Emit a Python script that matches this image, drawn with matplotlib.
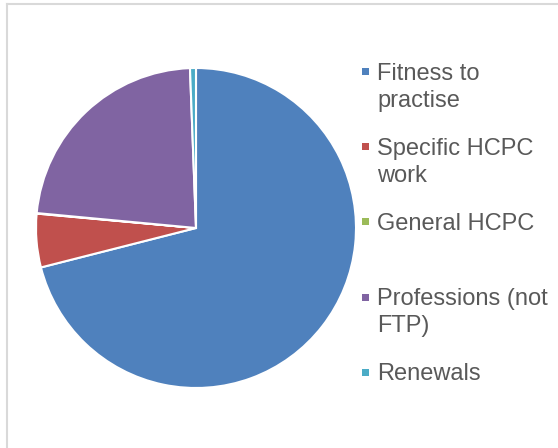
import matplotlib
matplotlib.use("Agg")
import matplotlib.pyplot as plt
from matplotlib.patches import Rectangle
from matplotlib.lines import Line2D

categories = ["Fitness to\npractise", "Specific HCPC\nwork", "General HCPC",
              "Professions (not\nFTP)", "Renewals"]
values = [71.0, 5.4, 0.05, 22.9, 0.6]
colors = ["#4F81BD", "#C0504D", "#9BBB59", "#8064A2", "#4BACC6"]

W, H = 558, 448
fig = plt.figure(figsize=(W / 100, H / 100), dpi=100)
fig.patch.set_facecolor("white")

# chart border (top and left visible)
fig.add_artist(Line2D([7 / W, 7 / W], [0, 1 - 4.5 / H], color="#d9d9d9", lw=1.5,
                      transform=fig.transFigure))
fig.add_artist(Line2D([7 / W, 1], [1 - 4.5 / H, 1 - 4.5 / H], color="#d9d9d9", lw=1.5,
                      transform=fig.transFigure))

cx, cy, r = 196, 228, 160
ax = fig.add_axes([(cx - r) / W, (H - cy - r) / H, 2 * r / W, 2 * r / H])
ax.pie(values, colors=colors, startangle=90, counterclock=False,
       wedgeprops=dict(edgecolor="white", linewidth=1.5))
ax.set_xlim(-1, 1)
ax.set_ylim(-1, 1)
ax.set_aspect("equal")
ax.axis("off")

# legend drawn manually
font = ["Liberation Sans", "DejaVu Sans"]
fs = 17
first_baseline = 80
entry_step = 75
line_step = 26.7
for i, (lab, col) in enumerate(zip(categories, colors)):
    by = first_baseline + i * entry_step
    fig.add_artist(Rectangle((362 / W, 1 - (by - 4.5) / H), 7 / W, 7 / H,
                             transform=fig.transFigure, facecolor=col,
                             edgecolor="none"))
    for j, line in enumerate(lab.split("\n")):
        fig.text(377 / W, 1 - (by + j * line_step) / H, line, fontsize=fs,
                 family=font, color="#595959", ha="left", va="baseline")

fig.savefig("out.png", dpi=100, facecolor="white")
